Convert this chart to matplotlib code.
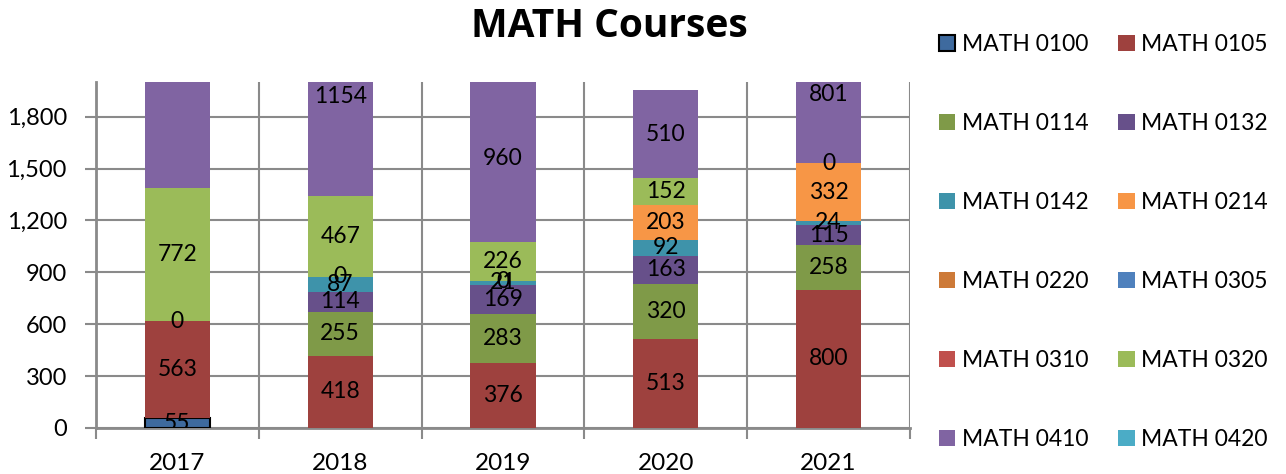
import numpy as np
import matplotlib
matplotlib.use("Agg")
import matplotlib.pyplot as plt
from matplotlib.patches import Patch

plt.rcParams["font.family"] = ["Lato", "DejaVu Sans"]

# ---Data----
years = ["2017", "2018", "2019", "2020", "2021"]
courses = ["MATH 0100", "MATH 0105", "MATH 0114", "MATH 0132",
           "MATH 0142", "MATH 0214", "MATH 0220", "MATH 0305",
           "MATH 0310", "MATH 0320", "MATH 0410", "MATH 0420"]
nan = np.nan
math_0100 = [55, nan, nan, nan, nan]
math_0105 = [563, 418, 376, 513, 800]
math_0114 = [nan, 255, 283, 320, 258]
math_0132 = [nan, 114, 169, 163, 115]
math_0142 = [nan, 87, 21, 92, 24]
math_0214 = [nan, nan, nan, 203, 332]
math_0220 = [nan, nan, nan, nan, nan]
math_0305 = [nan, nan, nan, nan, nan]
math_0310 = [0, 0, 0, nan, 0]
math_0320 = [772, 467, 226, 152, nan]
math_0410 = [1300, 1154, 960, 510, 801]
math_0420 = [nan, nan, nan, nan, nan]
colors = ["#3E6A9E", "#9E413E", "#7F9A48", "#67508A",
          "#3E93AA", "#F79646", "#CD7A38", "#4F81BD",
          "#C0504D", "#9BBB59", "#8064A2", "#4BACC6"]
# ---Data----

series = [math_0100, math_0105, math_0114, math_0132, math_0142, math_0214,
          math_0220, math_0305, math_0310, math_0320, math_0410, math_0420]

GRID = "#8A8A8A"
FS = 16.5
YMAX = 2000

fig = plt.figure(figsize=(12.86, 4.74), dpi=100)
ax = fig.add_axes([96 / 1286, 46 / 474, 814 / 1286, 346 / 474])

x = np.arange(len(years))
bottom = np.zeros(len(years))
handles = []
for name, vals, col in zip(courses, series, colors):
    vals = np.array(vals, dtype=float)
    has = ~np.isnan(vals)
    edge = "black" if name == "MATH 0100" else col
    lw = 1.5 if name == "MATH 0100" else 0
    if has.any():
        ax.bar(x[has], vals[has], bottom=bottom[has], width=0.4,
               color=col, edgecolor=edge, linewidth=lw, zorder=3)
        for xi, v, b in zip(x[has], vals[has], bottom[has]):
            mid = b + v / 2
            if mid > YMAX:  # label centre falls outside the plot
                continue
            ax.text(xi, mid, f"{v:.0f}", ha="center", va="center",
                    fontsize=FS, color="black", zorder=5, clip_on=True)
    bottom = bottom + np.nan_to_num(vals)
    handles.append(Patch(facecolor=col, edgecolor=edge, linewidth=lw, label=name))

ax.set_xlim(-0.5, len(years) - 0.5)
ax.set_ylim(0, YMAX)
ax.set_yticks(np.arange(0, 1801, 300))
ax.set_yticklabels([f"{v:,}" for v in range(0, 1801, 300)], fontsize=17)
ax.set_xticks(x)
ax.set_xticklabels(years, fontsize=17.5)
ax.set_xticks(np.arange(-0.5, len(years)), minor=True)
ax.tick_params(axis="x", which="major", length=0, pad=18)
ax.tick_params(axis="x", which="minor", length=8, width=1.5, color=GRID)
ax.tick_params(axis="y", length=8, width=1.5, color=GRID, pad=13)
ax.grid(axis="y", which="major", color=GRID, linewidth=1.5, zorder=0)
ax.grid(axis="x", which="minor", color=GRID, linewidth=1.5, zorder=0)
ax.set_axisbelow(True)
for side in ["top", "right"]:
    ax.spines[side].set_visible(False)
for side in ["left", "bottom"]:
    ax.spines[side].set_color(GRID)
    ax.spines[side].set_linewidth(2)

fig.text(609 / 1286, 1 - 37 / 474, "MATH Courses", ha="center", va="baseline",
         fontsize=28, fontweight="bold", family=["Open Sans", "DejaVu Sans"])

# legend reads row by row: reorder for matplotlib's column filling
order = handles[0::2] + handles[1::2]
fig.legend(handles=order, ncol=2, loc="upper left",
           bbox_to_anchor=(930 / 1286, 1 - 25 / 474), frameon=False,
           fontsize=FS, handlelength=0.7, handleheight=0.7, handletextpad=0.3,
           labelspacing=2.53, columnspacing=1.3, borderaxespad=0)

fig.savefig("out.png", dpi=100)
